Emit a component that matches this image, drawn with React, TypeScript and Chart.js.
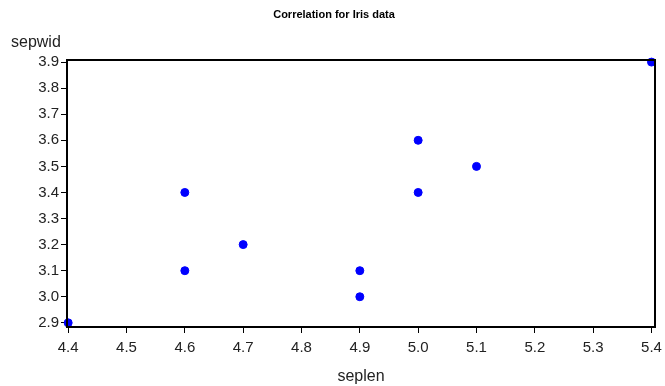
import React, { useEffect, useRef } from "react";
import { Chart, registerables } from "chart.js";

Chart.register(...registerables);

const seplen = [5.1, 4.9, 4.7, 4.6, 5.0, 5.4, 4.6, 5.0, 4.4, 4.9];
const sepwid = [3.5, 3.0, 3.2, 3.1, 3.6, 3.9, 3.4, 3.4, 2.9, 3.1];
const xTicks = [4.4, 4.5, 4.6, 4.7, 4.8, 4.9, 5.0, 5.1, 5.2, 5.3, 5.4];
const yTicks = [2.9, 3.0, 3.1, 3.2, 3.3, 3.4, 3.5, 3.6, 3.7, 3.8, 3.9];

const titleText = "Correlation for Iris data";
const xTitle = "seplen";
const yTitle = "sepwid";

const FONT = "'Liberation Sans', Arial, sans-serif";

export default function App() {
  const ref = useRef<HTMLCanvasElement | null>(null);
  useEffect(() => {
    const canvas = ref.current!;
    const deco = {
      id: "deco",
      afterDraw(chart: any) {
        const ctx = chart.ctx;
        const a = chart.chartArea;
        ctx.save();
        ctx.strokeStyle = "#000";
        ctx.lineWidth = 2;
        ctx.strokeRect(a.left, a.top, a.right - a.left, a.bottom - a.top);
        ctx.fillStyle = "#000";
        ctx.font = "bold 11px " + FONT;
        ctx.textAlign = "center";
        ctx.textBaseline = "middle";
        ctx.fillText(titleText, 334, 15);
        ctx.font = "16px " + FONT;
        ctx.textAlign = "left";
        ctx.fillStyle = "#222";
        ctx.fillText(yTitle, 11, 43);
        ctx.restore();
      },
    };
    const chart = new Chart(canvas, {
      type: "scatter",
      data: {
        datasets: [
          {
            data: seplen.map((x, i) => ({ x, y: sepwid[i] })),
            backgroundColor: "#0000FF",
            borderColor: "#0000FF",
            pointRadius: 4,
            pointHoverRadius: 4,
            clip: false as any,
          },
        ],
      },
      options: {
        animation: false,
        responsive: false,
        maintainAspectRatio: false,
        layout: { padding: { top: 60, right: 10, left: 0, bottom: 0 } },
        plugins: {
          legend: { display: false },
          title: { display: false },
          tooltip: { enabled: false },
        },
        scales: {
          x: {
            type: "linear",
            min: 4.398,
            max: 5.406,
            afterBuildTicks: (s: any) => {
              s.ticks = xTicks.map((v) => ({ value: v }));
            },
            afterFit: (s: any) => {
              s.height = 59;
              s.paddingLeft = 0;
              s.paddingRight = 0;
            },
            grid: { drawOnChartArea: false, tickLength: 6, color: "#000", lineWidth: 1 },
            border: { display: true, color: "#000", width: 2 },
            ticks: {
              color: "#222",
              font: { size: 15, family: FONT },
              padding: 6,
              maxRotation: 0,
              autoSkip: false,
              callback: (v: any) => Number(v).toFixed(1),
            },
            title: {
              display: true,
              text: xTitle,
              color: "#222",
              font: { size: 16, family: FONT },
              padding: { top: 4, bottom: 0 },
            },
          },
          y: {
            type: "linear",
            min: 2.884,
            max: 3.908,
            afterBuildTicks: (s: any) => {
              s.ticks = yTicks.map((v) => ({ value: v }));
            },
            afterFit: (s: any) => {
              s.width = 67;
              s.paddingTop = 0;
              s.paddingBottom = 0;
            },
            grid: { drawOnChartArea: false, tickLength: 6, color: "#000", lineWidth: 1 },
            border: { display: true, color: "#000", width: 2 },
            ticks: {
              color: "#222",
              font: { size: 15, family: FONT },
              padding: 2,
              autoSkip: false,
              callback: (v: any) => Number(v).toFixed(1),
            },
          },
        },
      },
      plugins: [deco],
    });
    return () => chart.destroy();
  }, []);
  return (
    <div style={{ position: "fixed", left: 0, top: 0, width: 665, height: 386, background: "#fff" }}>
      <canvas ref={ref} width={665} height={386} style={{ width: 665, height: 386 }} />
    </div>
  );
}
